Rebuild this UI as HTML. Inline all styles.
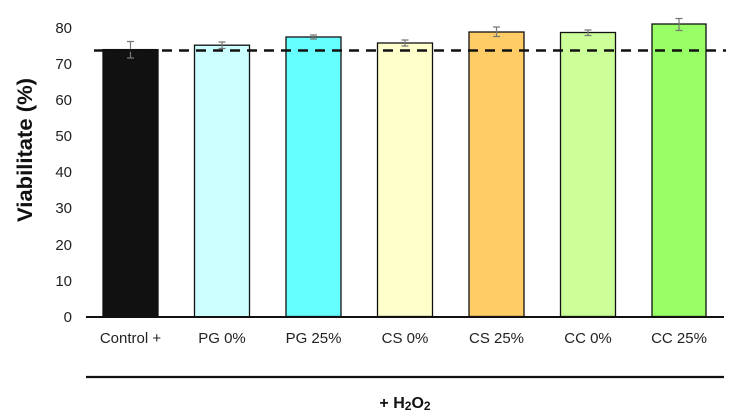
<!DOCTYPE html>
<html><head><meta charset="utf-8"><style>
html,body{margin:0;padding:0;background:#fff}
svg{display:block}
text{font-family:"Liberation Sans",Arial,sans-serif}
</style></head><body>
<svg width="736" height="417" viewBox="0 0 736 417" xmlns="http://www.w3.org/2000/svg">
<g font-size="15" fill="#222" text-anchor="end">
<text x="72" y="322">0</text>
<text x="72" y="286">10</text>
<text x="72" y="250">20</text>
<text x="72" y="213">30</text>
<text x="72" y="177">40</text>
<text x="72" y="141">50</text>
<text x="72" y="105">60</text>
<text x="72" y="69">70</text>
<text x="72" y="33">80</text>
</g>
<text transform="translate(32,150) rotate(-90)" font-size="21" font-weight="bold" text-anchor="middle" fill="#111" textLength="144" lengthAdjust="spacingAndGlyphs">Viabilitate (%)</text>
<g stroke="#111" stroke-width="1.3">
<rect x="103" y="49.6" width="55" height="267" fill="#111"/>
<rect x="194.5" y="45.2" width="55" height="271.5" fill="#ccffff"/>
<rect x="286" y="37" width="55" height="279.5" fill="#66ffff"/>
<rect x="377.5" y="43" width="55" height="273.5" fill="#ffffcc"/>
<rect x="469" y="32" width="55" height="284.5" fill="#ffcc66"/>
<rect x="560.5" y="32.5" width="55" height="284" fill="#ccff99"/>
<rect x="652" y="24" width="54" height="292.5" fill="#99ff66"/>
</g>
<g stroke="#777" stroke-width="1.2">
<path d="M130.5 41.5V58M127 41.5h7M127 58h7"/>
<path d="M222 42V48.5M218.5 42h7M218.5 48.5h7"/>
<path d="M313.5 35V39M310 35h7M310 39h7"/>
<path d="M405 40V46M401.5 40h7M401.5 46h7"/>
<path d="M496.5 27V36.5M493 27h7M493 36.5h7"/>
<path d="M588 30V35.5M584.5 30h7M584.5 35.5h7"/>
<path d="M679 18.5V30.5M675.5 18.5h7M675.5 30.5h7"/>
</g>
<line x1="94" y1="50.5" x2="726" y2="50.5" stroke="#111" stroke-width="2.6" stroke-dasharray="10,7"/>
<line x1="86" y1="317" x2="724" y2="317" stroke="#111" stroke-width="2"/>
<g font-size="15" fill="#222" text-anchor="middle">
<text x="130.5" y="343">Control +</text>
<text x="222" y="343">PG 0%</text>
<text x="313.5" y="343">PG 25%</text>
<text x="405" y="343">CS 0%</text>
<text x="496.5" y="343">CS 25%</text>
<text x="588" y="343">CC 0%</text>
<text x="679" y="343">CC 25%</text>
</g>
<line x1="86" y1="377" x2="724" y2="377" stroke="#111" stroke-width="2.2"/>
<text x="405" y="408" font-size="16" font-weight="bold" text-anchor="middle" fill="#111">+ H<tspan font-size="12" dy="2">2</tspan><tspan dy="-2">O</tspan><tspan font-size="12" dy="2">2</tspan></text>
</svg>
</body></html>
